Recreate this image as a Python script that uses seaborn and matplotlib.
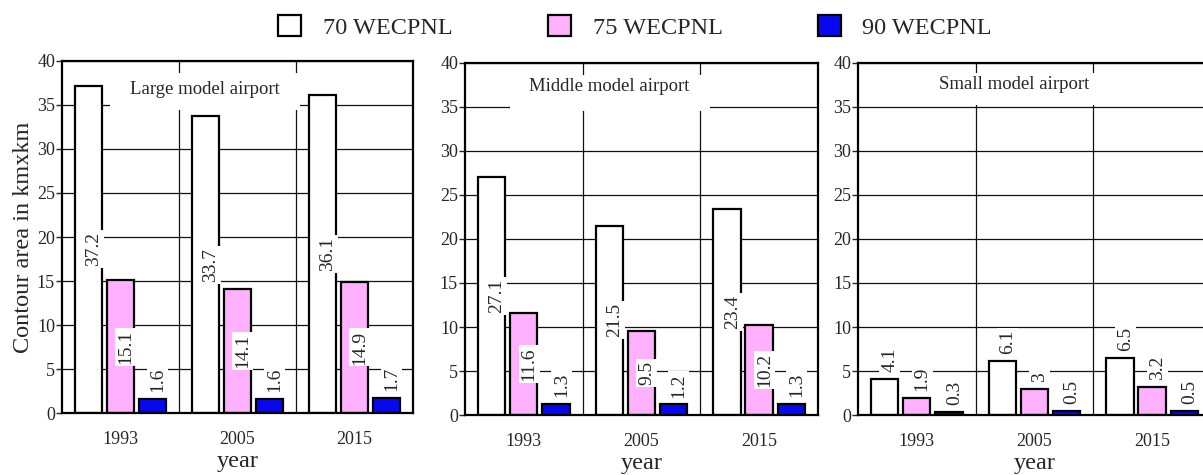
import matplotlib
matplotlib.use("Agg")
import matplotlib.pyplot as plt
from matplotlib.patches import Patch
import pandas as pd
import seaborn as sns

# ---- data -------------------------------------------------------------
years = ["1993", "2005", "2015"]
levels = ["70 WECPNL", "75 WECPNL", "90 WECPNL"]
airports = ["Large model airport", "Middle model airport", "Small model airport"]

large_70 = [37.2, 33.7, 36.1]
large_75 = [15.1, 14.1, 14.9]
large_90 = [1.6, 1.6, 1.7]

middle_70 = [27.1, 21.5, 23.4]
middle_75 = [11.6, 9.5, 10.2]
middle_90 = [1.3, 1.2, 1.3]

small_70 = [4.1, 6.1, 6.5]
small_75 = [1.9, 3.0, 3.2]
small_90 = [0.3, 0.5, 0.5]

panels = [
    (large_70, large_75, large_90),
    (middle_70, middle_75, middle_90),
    (small_70, small_75, small_90),
]

colors = ["#FFFFFF", "#FFB0FF", "#0808F0"]

# ---- styling ------------------------------------------------------------
sns.set_style("white")
plt.rcParams["font.family"] = ["Liberation Serif", "DejaVu Serif"]
plt.rcParams["axes.linewidth"] = 1.6

fig = plt.figure(figsize=(12.03, 4.75), dpi=100)
axes_rects = [
    [0.0515, 0.1305, 0.2918, 0.7411],
    [0.3865, 0.1263, 0.2934, 0.7411],
    [0.7132, 0.1263, 0.2934, 0.7411],
]
# white panel behind each subplot title: (x0, x1 in axes fraction, y0, y1 in data)
title_boxes = [
    (0.137, 0.678, 34.4, 38.6),
    (0.127, 0.694, 34.6, 38.6),
    (0.0, 1.0, 35.2, 38.9),
]
title_pos = [(0.72, 36.8), (0.73, 37.3), (0.825, 37.6)]

for i, (vals, rect) in enumerate(zip(panels, axes_rects)):
    ax = fig.add_axes(rect)
    rows = []
    for lvl, series in zip(levels, vals):
        for yr, v in zip(years, series):
            rows.append({"year": yr, "level": lvl, "value": v})
    df = pd.DataFrame(rows)

    sns.barplot(
        data=df, x="year", y="value", hue="level",
        order=years, hue_order=levels, palette=colors,
        edgecolor="black", linewidth=1.6, width=0.82, gap=0.15,
        legend=False, ax=ax, zorder=2, saturation=1,
    )

    ax.set_xlim(-0.5, 2.5)
    ax.set_ylim(0, 40)
    ax.set_yticks(range(0, 41, 5))
    ax.set_axisbelow(True)

    # category separators and horizontal grid
    ax.set_xticks([0.5, 1.5], minor=True)
    ax.grid(which="minor", axis="x", color="#111111", linewidth=0.9)
    ax.grid(which="major", axis="y", color="#111111", linewidth=0.9)
    ax.grid(which="major", axis="x", visible=False)

    ax.tick_params(axis="x", which="both", length=0, pad=13, labelsize=13)
    ax.tick_params(axis="y", which="major", direction="out", length=4,
                   width=1.0, pad=1, labelsize=13, left=True)
    for s in ax.spines.values():
        s.set_visible(True)
        s.set_color("black")
        s.set_linewidth(1.6)

    # title panel
    x0, x1, y0, y1 = title_boxes[i]
    ax.axhspan(y0, y1, xmin=x0, xmax=x1, facecolor="white",
               edgecolor="none", zorder=1.5)
    tx, ty = title_pos[i]
    ax.text(tx, ty, airports[i], ha="center", va="center",
            fontsize=13.5, zorder=3)

    # value labels
    for container in ax.containers:
        for bar in container:
            h = bar.get_height()
            xc = bar.get_x() + bar.get_width() / 2 + 0.045
            txt = f"{h:g}"
            box = dict(facecolor="white", edgecolor="none", pad=1.4)
            if h >= 8:
                ax.text(xc, h / 2, txt, rotation=90, ha="center",
                        va="center", fontsize=14, bbox=box, zorder=4)
            else:
                ax.annotate(txt, (xc, h), xytext=(0, 5),
                            textcoords="offset points", rotation=90,
                            ha="center", va="bottom", fontsize=14,
                            bbox=box, zorder=4)

    ax.set_xlabel("year", fontsize=17.5, labelpad=2)
    if i == 0:
        ax.set_ylabel("Contour area in kmxkm", fontsize=17.5, labelpad=2)
    else:
        ax.set_ylabel("")

handles = [Patch(facecolor=c, edgecolor="black", linewidth=1.6) for c in colors]
fig.legend(handles, levels, loc="center", bbox_to_anchor=(0.528, 0.943),
           ncol=3, frameon=False, fontsize=17.5, handlelength=0.95,
           handleheight=0.95, handletextpad=0.9, columnspacing=3.9)

fig.savefig("out.png", dpi=100)
